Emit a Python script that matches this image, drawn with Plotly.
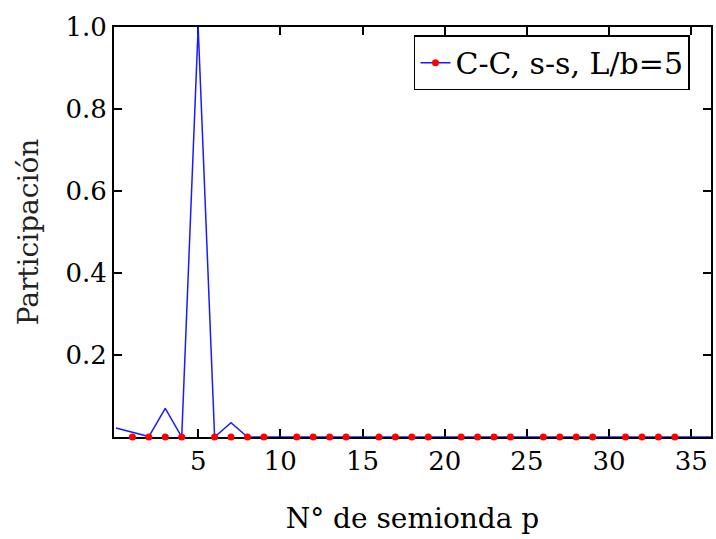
import plotly.graph_objects as go

# Participation of each half-wave number p (C-C, s-s, L/b=5)
p_line = list(range(0, 38))
participation = [0.022, 0.012, 0.001, 0.070, 0.000, 1.000, 0.000, 0.035, 0.000] + [0.0] * 29

# Half-wave numbers marked at zero level
p_marks = [1, 2, 3, 4, 6, 7, 8, 9, 11, 12, 13, 14, 16, 17, 18, 19,
           21, 22, 23, 24, 26, 27, 28, 29, 31, 32, 33, 34]
zero_marks = [0.0] * len(p_marks)

x_ticks = [5, 10, 15, 20, 25, 30, 35]
y_ticks = [0.2, 0.4, 0.6, 0.8, 1.0]

serif = "DejaVu Serif"

fig = go.Figure()
fig.add_trace(go.Scatter(
    x=p_line, y=participation, mode="lines",
    line=dict(color="#1a1aff", width=1.5),
    showlegend=False, cliponaxis=False,
))
fig.add_trace(go.Scatter(
    x=p_marks, y=zero_marks, mode="markers",
    marker=dict(color="#ff0000", size=7, symbol="circle"),
    showlegend=False, cliponaxis=False,
))
# legend entry: blue line with red marker
fig.add_trace(go.Scatter(
    x=[None], y=[None], mode="lines+markers", name="C-C, s-s, L/b=5",
    line=dict(color="#1a1aff", width=1.5),
    marker=dict(color="#ff0000", size=7),
))

axis_common = dict(
    showline=True, linecolor="black", linewidth=2, mirror="ticks",
    ticks="inside", ticklen=8, tickwidth=1.5, tickcolor="black",
    showgrid=False, zeroline=False, layer="below traces",
    tickfont=dict(family=serif, size=26, color="black"),
)

fig.update_layout(
    width=716, height=539,
    margin=dict(l=114, r=3, t=27, b=102),
    paper_bgcolor="white", plot_bgcolor="white",
    font=dict(family=serif),
    xaxis=dict(range=[-0.12, 36.2], tickvals=x_ticks,
               title=dict(text="N° de semionda p", font=dict(family=serif, size=28, color="black"),
                          standoff=33),
               **axis_common),
    yaxis=dict(range=[0, 1.0], tickvals=y_ticks, tickformat=".1f",
               title=dict(text="Participación", font=dict(family=serif, size=28, color="#222"),
                          standoff=19),
               **axis_common),
    legend=dict(x=0.5025, y=0.98, xanchor="left", yanchor="top",
                bordercolor="black", borderwidth=1.5, bgcolor="white",
                font=dict(family=serif, size=30, color="black"),
                itemwidth=30, tracegroupgap=0),
    showlegend=True,
)

fig.write_html("out.html")
